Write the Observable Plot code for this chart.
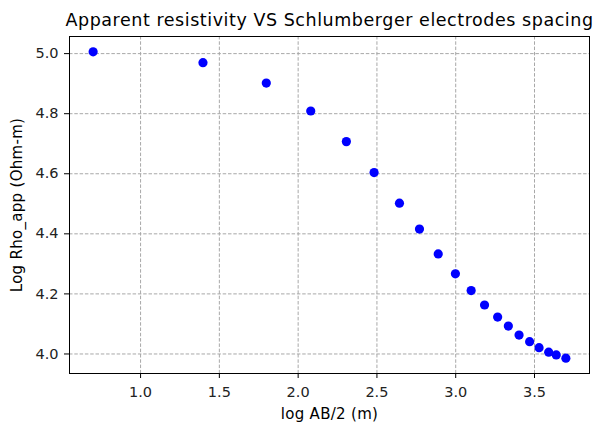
<!DOCTYPE html>
<html>
<head>
<meta charset="utf-8">
<script src="https://cdn.jsdelivr.net/npm/d3@7"></script>
<script src="https://cdn.jsdelivr.net/npm/@observablehq/plot@0.6"></script>
<style>
  html, body { margin: 0; padding: 0; background: #fff; }
  svg { display: block; }
</style>
</head>
<body>
<div id="chart"></div>
<script>
const titleText = "Apparent resistivity VS Schlumberger electrodes spacing";
const xLabel = "log AB/2 (m)";
const yLabel = "Log Rho_app (Ohm-m)";

const logAB2 = [0.699, 1.396, 1.798, 2.080, 2.306, 2.482, 2.643, 2.770, 2.889, 2.998,
                3.098, 3.183, 3.266, 3.334, 3.402, 3.469, 3.529, 3.590, 3.638, 3.699];
const logRho = [5.006, 4.970, 4.902, 4.809, 4.707, 4.604, 4.502, 4.416, 4.333, 4.267,
                4.211, 4.163, 4.123, 4.093, 4.063, 4.041, 4.021, 4.006, 3.997, 3.986];

const xTicks = [1.0, 1.5, 2.0, 2.5, 3.0, 3.5];
const yTicks = [4.0, 4.2, 4.4, 4.6, 4.8, 5.0];

const data = logAB2.map((x, i) => ({x, y: logRho[i]}));

function padded(values, frac) {
  const [lo, hi] = d3.extent(values);
  const m = (hi - lo) * frac;
  return [lo - m, hi + m];
}

const font = "DejaVu Sans, sans-serif";
const gridStyle = {stroke: "#a8a8a8", strokeOpacity: 1, strokeWidth: 1, strokeDasharray: "3.5,1.8"};

const chart = Plot.plot({
  width: 595,
  height: 423,
  marginLeft: 69,
  marginRight: 6,
  marginTop: 36,
  marginBottom: 50,
  style: {fontFamily: font, color: "#000", background: "#fff"},
  x: {domain: padded(logAB2, 0.05)},
  y: {domain: padded(logRho, 0.05)},
  marks: [
    Plot.gridX(xTicks, gridStyle),
    Plot.gridY(yTicks, gridStyle),
    Plot.dot(data, {x: "x", y: "y", r: 4.6, fill: "#0000ff", stroke: null}),
    Plot.frame({stroke: "#000", strokeWidth: 1}),
    Plot.axisX(xTicks, {tickFormat: d3.format(".1f"), tickSize: 5, tickPadding: 8, fontSize: 14.5, label: null, fill: "#222"}),
    Plot.axisY(yTicks, {tickFormat: d3.format(".1f"), tickSize: 5, tickPadding: 6, fontSize: 14.5, label: null, fill: "#222"}),
    Plot.text([titleText], {frameAnchor: "top", lineAnchor: "bottom", textAnchor: "middle", dy: -10.3, fontSize: 17.5, text: d => d, fill: "#000"}),
    Plot.text([xLabel], {frameAnchor: "bottom", lineAnchor: "bottom", textAnchor: "middle", dy: 45, fontSize: 15, text: d => d, fill: "#000"}),
    Plot.text([yLabel], {frameAnchor: "left", lineAnchor: "middle", textAnchor: "middle", dx: -52, rotate: -90, fontSize: 15, text: d => d, fill: "#000"})
  ]
});
d3.select(chart).selectAll("text").filter(function() { return this.textContent === titleText; })
  .attr("letter-spacing", "0.55px");
d3.select(chart).selectAll("text").filter(function() { return this.textContent === xLabel || this.textContent === yLabel; })
  .attr("letter-spacing", "0.3px");
document.getElementById("chart").appendChild(chart);
</script>
</body>
</html>
